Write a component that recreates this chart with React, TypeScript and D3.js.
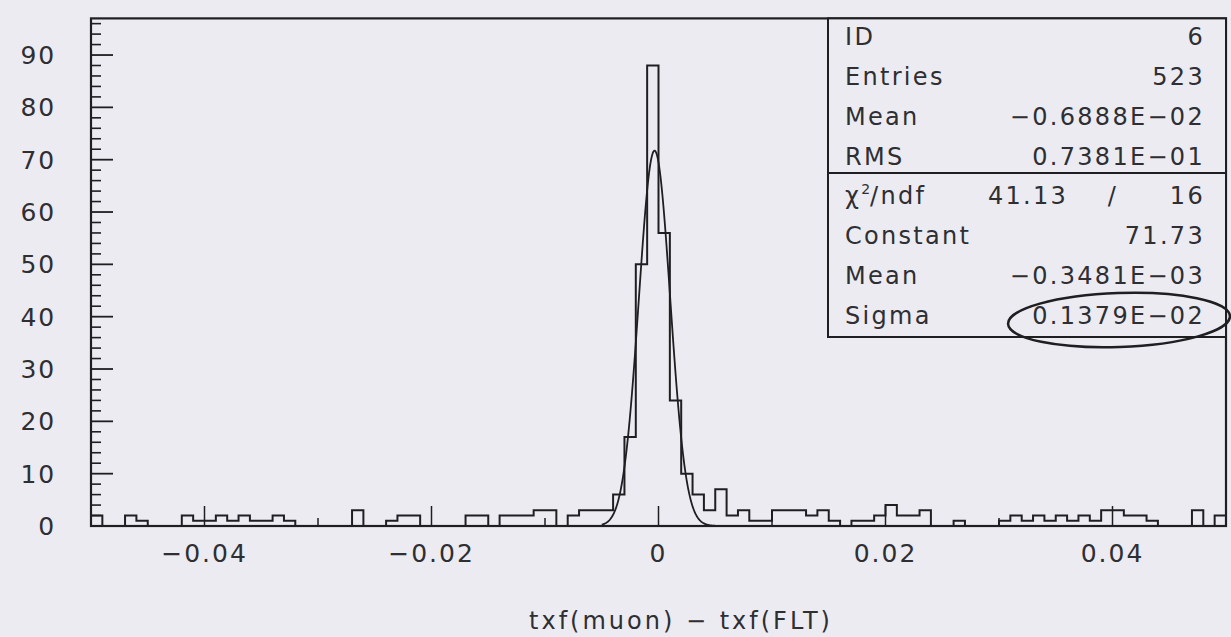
import React from "react";
import * as d3 from "d3";

// ---------------- data ----------------
const X_MIN = -0.05;
const X_MAX = 0.05;
const Y_MAX = 97;
const binCounts: number[] = [
  2, 0, 0, 2, 1, 0, 0, 0, 2, 1,
  1, 2, 1, 2, 1, 1, 2, 1, 0, 0,
  0, 0, 0, 3, 0, 0, 1, 2, 2, 0,
  0, 0, 0, 2, 2, 0, 2, 2, 2, 3,
  3, 0, 2, 3, 3, 3, 6, 17, 50, 88,
  56, 24, 10, 6, 3, 7, 2, 3, 1, 1,
  3, 3, 3, 2, 3, 1, 0, 1, 1, 2,
  4, 2, 2, 3, 0, 0, 1, 0, 0, 0,
  1, 2, 1, 2, 1, 2, 1, 2, 1, 3,
  3, 2, 2, 1, 0, 0, 0, 3, 0, 2,
];
const xMajorTicks = [-0.04, -0.02, 0, 0.02, 0.04];
const xTickLabels = ["\u22120.04", "\u22120.02", "0", "0.02", "0.04"];
const xMinorTicks = [-0.03, -0.01, 0.01, 0.03];
const yMajorTicks = [0, 10, 20, 30, 40, 50, 60, 70, 80, 90];
const yMinorStep = 2;
const fitConstant = 71.73;
const fitMean = -0.3481e-3;
const fitSigma = 0.1379e-2;
const fitRange = [-0.005, 0.005];
const statLabelsTop = ["ID", "Entries", "Mean", "RMS"];
const statValuesTop = ["6", "523", "\u22120.6888E\u221202", "0.7381E\u221201"];
const chiValue = "41.13";
const ndfValue = "16";
const statLabelsFit = ["Constant", "Mean", "Sigma"];
const statValuesFit = ["71.73", "\u22120.3481E\u221203", "0.1379E\u221202"];
const xTitle = "txf(muon) \u2212 txf(FLT)";

// ---------------- layout ----------------
const W = 1231;
const H = 637;
const PLOT = { left: 91, right: 1226, top: 18.4, bottom: 526 };
const BG = "#ecebf2";
const INK = "#1f1f22";
const TEXT = "#2e2e33";
const FONT = "'DejaVu Sans', 'Liberation Sans', sans-serif";

export default function App() {
  const x = d3.scaleLinear().domain([X_MIN, X_MAX]).range([PLOT.left, PLOT.right]);
  const y = d3.scaleLinear().domain([0, Y_MAX]).range([PLOT.bottom, PLOT.top]);
  const binW = (X_MAX - X_MIN) / binCounts.length;

  // histogram step path
  let histPath = `M${x(X_MIN)},${y(0)}`;
  binCounts.forEach((c, i) => {
    const x1 = x(X_MIN + (i + 1) * binW);
    histPath += `V${y(c)}H${x1}`;
  });
  histPath += `V${y(0)}`;

  // gaussian fit
  const fitPts = d3.range(0, 401).map((k) => {
    const xv = fitRange[0] + ((fitRange[1] - fitRange[0]) * k) / 400;
    return [xv, fitConstant * Math.exp(-0.5 * ((xv - fitMean) / fitSigma) ** 2)] as [number, number];
  });
  const fitLine = d3
    .line<[number, number]>()
    .x((d) => x(d[0]))
    .y((d) => y(d[1]))
    .curve(d3.curveLinear)(fitPts) as string;

  const yMinor = d3.range(0, Y_MAX + 0.001, yMinorStep).filter((v) => v % 10 !== 0);

  // stat box geometry
  const box = { left: 828, right: PLOT.right, top: PLOT.top, bottom: 337, divider: 173 };
  const labelX = 845;
  const valueX = 1205;
  const rowTop = (i: number) => 45 + 40 * i;
  const rowFit = (i: number) => 204 + 40 * i;

  const textStyle: React.CSSProperties = {
    fontFamily: FONT,
    fontSize: 24,
    letterSpacing: 2.3,
    fill: TEXT,
    fontWeight: 400,
  };

  return (
    <div style={{ position: "fixed", left: 0, top: 0, width: W, height: H, background: BG }}>
      <svg width={W} height={H} viewBox={`0 0 ${W} ${H}`} style={{ display: "block" }}>
        <rect x={0} y={0} width={W} height={H} fill={BG} />

        {/* frame */}
        <rect
          x={PLOT.left}
          y={PLOT.top}
          width={PLOT.right - PLOT.left}
          height={PLOT.bottom - PLOT.top}
          fill="none"
          stroke={INK}
          strokeWidth={2.2}
        />

        {/* y ticks */}
        {yMajorTicks.map((v) => (
          <line key={`ym${v}`} x1={PLOT.left} x2={PLOT.left + 22} y1={y(v)} y2={y(v)} stroke={INK} strokeWidth={1.8} />
        ))}
        {yMinor.map((v) => (
          <line key={`yn${v}`} x1={PLOT.left} x2={PLOT.left + 10} y1={y(v)} y2={y(v)} stroke={INK} strokeWidth={1.6} />
        ))}
        {yMajorTicks.map((v) => (
          <text key={`yl${v}`} x={56} y={y(v) + 9} textAnchor="end" style={{ ...textStyle, fontSize: 25, letterSpacing: 1.8 }}>
            {v}
          </text>
        ))}

        {/* x ticks */}
        {xMajorTicks.map((v) => (
          <line key={`xm${v}`} x1={x(v)} x2={x(v)} y1={PLOT.bottom} y2={PLOT.bottom - 20} stroke={INK} strokeWidth={1.5} />
        ))}
        {xMinorTicks.map((v) => (
          <line key={`xn${v}`} x1={x(v)} x2={x(v)} y1={PLOT.bottom} y2={PLOT.bottom - 8} stroke={INK} strokeWidth={1.5} />
        ))}
        {xMajorTicks.map((v, i) => (
          <text key={`xl${v}`} x={x(v)} y={562} textAnchor="middle" style={{ ...textStyle, fontSize: 25, letterSpacing: 2 }}>
            {xTickLabels[i]}
          </text>
        ))}

        {/* histogram */}
        <path d={histPath} fill="none" stroke={INK} strokeWidth={2} strokeLinejoin="miter" />
        {/* fit */}
        <path d={fitLine} fill="none" stroke={INK} strokeWidth={1.8} />

        {/* x title */}
        <text x={681} y={629} textAnchor="middle" style={{ ...textStyle, fontSize: 24, letterSpacing: 3 }}>
          {xTitle}
        </text>

        {/* stat box */}
        <rect
          x={box.left}
          y={box.top}
          width={box.right - box.left}
          height={box.bottom - box.top}
          fill={BG}
          stroke={INK}
          strokeWidth={2}
        />
        <line x1={box.left} x2={box.right} y1={box.divider} y2={box.divider} stroke={INK} strokeWidth={2} />
        {statLabelsTop.map((l, i) => (
          <text key={`sl${i}`} x={labelX} y={rowTop(i)} style={textStyle}>
            {l}
          </text>
        ))}
        {statValuesTop.map((v, i) => (
          <text key={`sv${i}`} x={valueX} y={rowTop(i)} textAnchor="end" style={textStyle}>
            {v}
          </text>
        ))}
        <text x={labelX} y={rowFit(0)} style={textStyle}>
          {"\u03c7"}
          <tspan dy={-10} style={{ fontSize: 14, letterSpacing: 0 }}>2</tspan>
          <tspan dy={10}>/ndf</tspan>
        </text>
        <text x={1028} y={rowFit(0)} textAnchor="middle" style={textStyle}>
          {chiValue}
        </text>
        <text x={1113} y={rowFit(0)} textAnchor="middle" style={textStyle}>
          /
        </text>
        <text x={valueX} y={rowFit(0)} textAnchor="end" style={textStyle}>
          {ndfValue}
        </text>
        {statLabelsFit.map((l, i) => (
          <text key={`fl${i}`} x={labelX} y={rowFit(i + 1)} style={textStyle}>
            {l}
          </text>
        ))}
        {statValuesFit.map((v, i) => (
          <text key={`fv${i}`} x={valueX} y={rowFit(i + 1)} textAnchor="end" style={textStyle}>
            {v}
          </text>
        ))}
        {/* hand-drawn ellipse around sigma */}
        <ellipse cx={1119} cy={320} rx={111} ry={27} fill="none" stroke={INK} strokeWidth={2.5} transform="rotate(-2 1119 320)" />
      </svg>
    </div>
  );
}
